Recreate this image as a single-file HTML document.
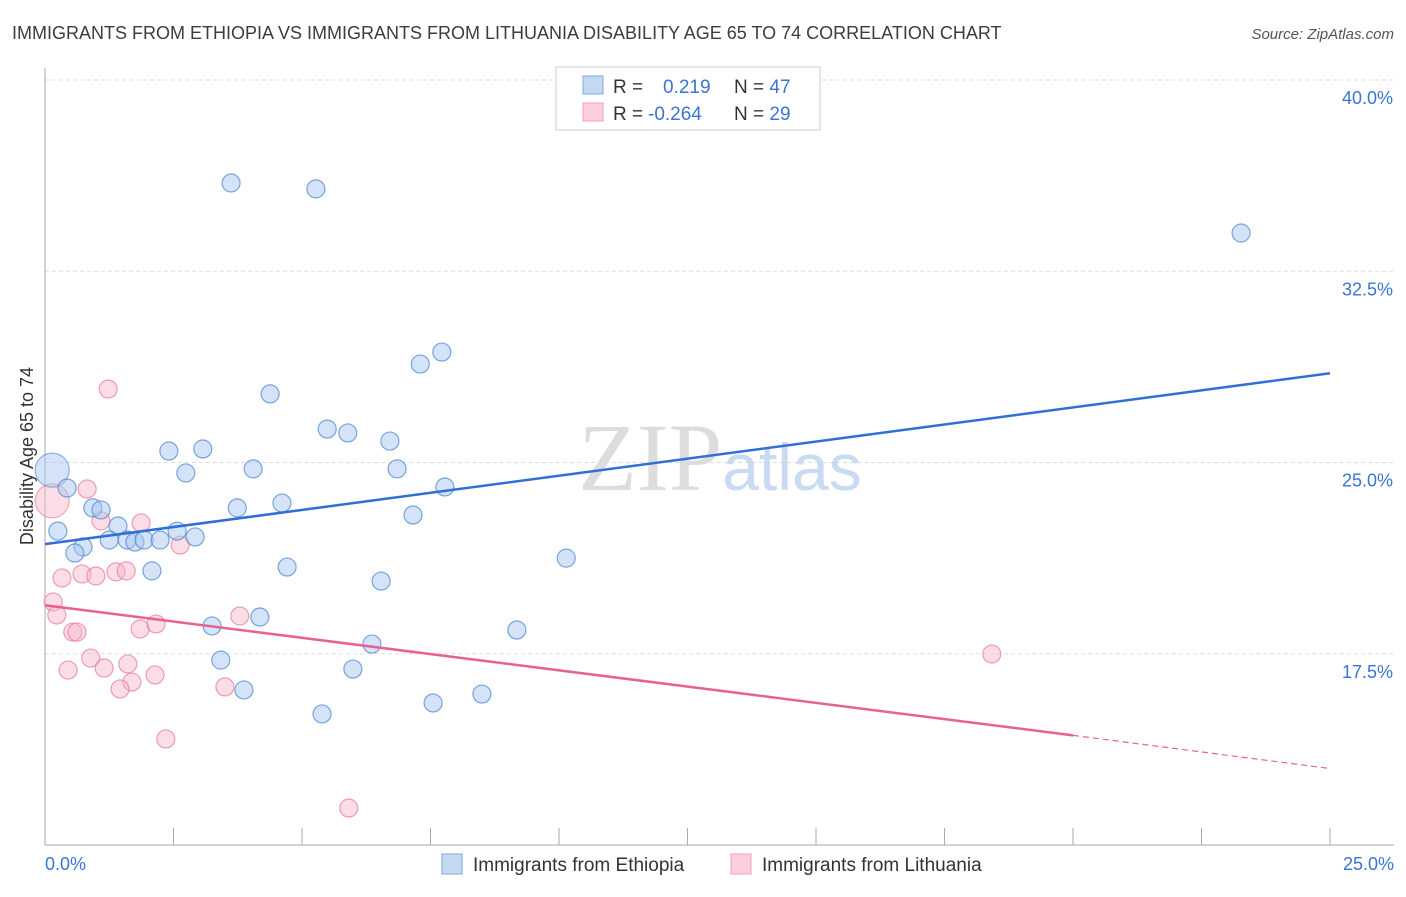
<!DOCTYPE html>
<html><head><meta charset="utf-8"><style>
body{margin:0;background:#fff;font-family:"Liberation Sans",sans-serif}
</style></head><body>
<svg width="1406" height="892" viewBox="0 0 1406 892" xmlns="http://www.w3.org/2000/svg">
<text x="12" y="39" font-size="18" fill="#3c3c3c">IMMIGRANTS FROM ETHIOPIA VS IMMIGRANTS FROM LITHUANIA DISABILITY AGE 65 TO 74 CORRELATION CHART</text>
<text x="1394" y="39" font-size="15" fill="#555" font-style="italic" text-anchor="end">Source: ZipAtlas.com</text>
<g id="grid"></g>
<text x="720" y="490" font-size="96" fill="#ddd" text-anchor="middle" font-family="Liberation Serif,serif">ZIP<tspan fill="#c9daf2" font-family="Liberation Sans,sans-serif" font-size="66">atlas</tspan></text>
<line x1="45" y1="68" x2="45" y2="845" stroke="#aaa"/>
<line x1="45" y1="845" x2="1394" y2="845" stroke="#aaa"/>
<g id="ticks"></g>
<text transform="translate(33,456) rotate(-90)" font-size="18" fill="#333" text-anchor="middle">Disability Age 65 to 74</text>
<text x="45" y="870" font-size="18" fill="#3a74d4">0.0%</text>
<text x="1394" y="870" font-size="18" fill="#3a74d4" text-anchor="end">25.0%</text>
<g id="pts"></g>
<g id="lines"></g>
<g>
<rect x="556" y="67" width="264" height="63" fill="#fff" stroke="#ccc"/>
<rect x="583" y="76" width="20" height="18" fill="#c5d9f5" stroke="#7fa6e0"/>
<rect x="583" y="103" width="20" height="18" fill="#fbd0dc" stroke="#eea0b8"/>
<text x="613" y="93" font-size="19" fill="#333">R = <tspan fill="#3a74d4" x="663">0.219</tspan><tspan x="734">N = </tspan><tspan fill="#3a74d4">47</tspan></text>
<text x="613" y="120" font-size="19" fill="#333">R = <tspan fill="#3a74d4" x="648">-0.264</tspan><tspan x="734">N = </tspan><tspan fill="#3a74d4">29</tspan></text>
</g>
<g>
<rect x="442" y="854" width="20" height="20" fill="#c5d9f5" stroke="#7fa6e0"/>
<text x="473" y="871" font-size="19" fill="#333">Immigrants from Ethiopia</text>
<rect x="731" y="854" width="20" height="20" fill="#fbd0dc" stroke="#eea0b8"/>
<text x="762" y="871" font-size="19" fill="#333">Immigrants from Lithuania</text>
</g>
</svg>
<script>
const NS="http://www.w3.org/2000/svg";
const yTicks=[40,32.5,25,17.5];
const yTickLabels=["40.0%","32.5%","25.0%","17.5%"];
const xTicks=[0,2.5,5,7.5,10,12.5,15,17.5,20,22.5,25];
const ethPx=[[231,183],[316,189],[1241,233],[442,352],[420,364],[270,394],[327,429],[348,433],[390,441],[169,451],[203,449],[186,473],[253,469],[397,469],[67,488],[445,487],[93,508],[101,510],[237,508],[282,503],[413,515],[118,526],[177,531],[58,531],[109,540],[127,540],[135,542],[144,540],[160,540],[195,537],[83,547],[75,553],[566,558],[287,567],[152,571],[381,581],[260,617],[212,626],[517,630],[372,644],[221,660],[353,669],[244,690],[433,703],[482,694],[322,714]];
const litPx=[[108,389],[87,489],[101,521],[141,523],[180,545],[62,578],[82,574],[96,576],[116,572],[126,571],[53,602],[57,615],[73,632],[77,632],[140,629],[156,624],[240,616],[91,658],[68,670],[104,668],[128,664],[132,682],[120,689],[155,675],[225,687],[166,739],[349,808],[992,654]];
// data values (x %, y %)
const ethX=ethPx.map(p=>+((p[0]-45)/51.4).toFixed(2));
const ethY=ethPx.map(p=>+(40-(p[1]-80)/25.5).toFixed(2));
const litX=litPx.map(p=>+((p[0]-45)/51.4).toFixed(2));
const litY=litPx.map(p=>+(40-(p[1]-80)/25.5).toFixed(2));
const ethBig=[0.14,24.7], litBig=[0.14,23.5];
const ethTrend=[[0,21.8],[25,28.5]];
const litTrend=[[0,19.4],[20,14.3],[25,13.0]];
const X=v=>45+v*51.4, Y=v=>80+(40-v)*25.5;
function mk(t,a,p){const e=document.createElementNS(NS,t);for(const k in a)e.setAttribute(k,a[k]);p.appendChild(e);return e;}
const grid=document.getElementById('grid');
yTicks.forEach((v,i)=>{
 const l=mk('line',{x1:45,x2:1394,y1:Y(v),y2:Y(v),stroke:'#ddd','stroke-dasharray':'4,3'},grid);
 
 
 const t=mk('text',{x:1393,y:Y(v)+24,'font-size':18,fill:'#3a74d4','text-anchor':'end'},grid);
 t.textContent=yTickLabels[i];
 
 
});
const tk=document.getElementById('ticks');
xTicks.forEach(v=>{
 const l=mk('line',{x1:X(v),x2:X(v),y1:828,y2:845,stroke:'#aaa'},tk);
 
 
});
const pts=document.getElementById('pts');
function dot(x,y,r,fill,st,name){const c=mk('circle',{cx:X(x),cy:Y(y),r:r,fill:fill,stroke:st,'stroke-width':1.2},pts);
 
 }
dot(litBig[0],litBig[1],17,'rgba(247,180,200,0.45)','rgba(230,120,155,0.6)','lithuania-point');
dot(ethBig[0],ethBig[1],17,'rgba(170,200,240,0.5)','rgba(70,130,210,0.6)','ethiopia-point');
litX.forEach((x,i)=>dot(x,litY[i],9,'rgba(247,180,200,0.45)','rgba(230,120,155,0.7)','lithuania-point'));
ethX.forEach((x,i)=>dot(x,ethY[i],9,'rgba(170,200,240,0.5)','rgba(70,130,210,0.7)','ethiopia-point'));
const lg=document.getElementById('lines');
let l=mk('line',{x1:X(ethTrend[0][0]),y1:Y(ethTrend[0][1]),x2:X(ethTrend[1][0]),y2:Y(ethTrend[1][1]),stroke:'#2f6fd6','stroke-width':2.5},lg);


l=mk('line',{x1:X(litTrend[0][0]),y1:Y(litTrend[0][1]),x2:X(litTrend[1][0]),y2:Y(litTrend[1][1]),stroke:'#e8628f','stroke-width':2.5},lg);


l=mk('line',{x1:X(litTrend[1][0]),y1:Y(litTrend[1][1]),x2:X(litTrend[2][0]),y2:Y(litTrend[2][1]),stroke:'#e8628f','stroke-width':1.2,'stroke-dasharray':'6,4'},lg);


</script>
</body></html>
